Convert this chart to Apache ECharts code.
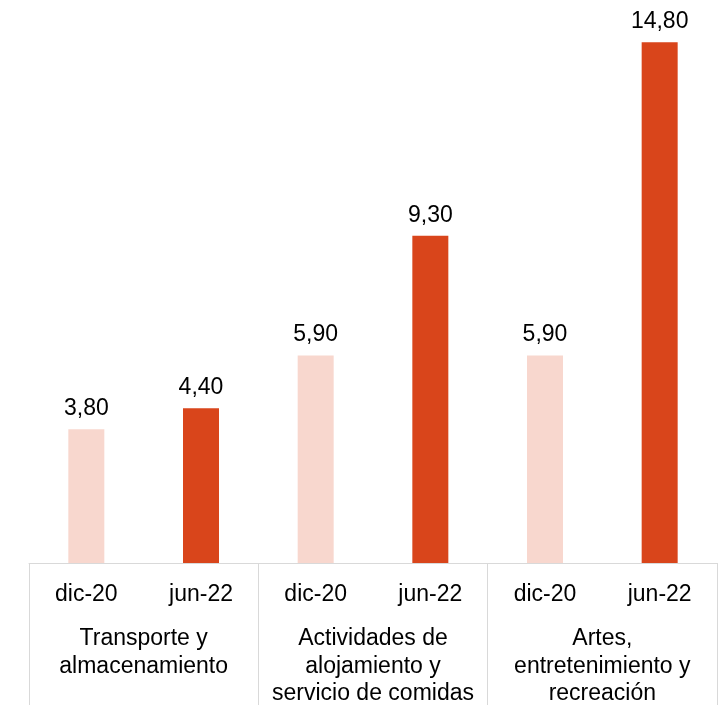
<!DOCTYPE html>
<html>
<head>
<meta charset="utf-8">
<script src="https://cdn.jsdelivr.net/npm/echarts@6/dist/echarts.min.js"></script>
<style>
  html, body { margin: 0; padding: 0; background: #fff; }
  #chart { width: 725px; height: 705px; }
</style>
</head>
<body>
<div id="chart"></div>
<script>
// periodos y sectores
const periods = ['dic-20', 'jun-22', 'dic-20', 'jun-22', 'dic-20', 'jun-22']
const sectors = ['Transporte y\nalmacenamiento', 'Actividades de\nalojamiento y\nservicio de comidas', 'Artes,\nentretenimiento y\nrecreación']
const values = [3.8, 4.4, 5.9, 9.3, 5.9, 14.8]
const periodColors = { 'dic-20': '#F8D7CE', 'jun-22': '#D9451B' }

const chart = echarts.init(document.getElementById('chart'))
const font = 'Liberation Sans, Arial, sans-serif'

const option = {
  animation: false,
  grid: {
    top: 0,
    left: 29,
    right: 8,
    bottom: 142,
    outerBoundsMode: 'none'
  },
  xAxis: [
    {
      type: 'category',
      data: periods,
      axisLine: { show: true, lineStyle: { color: '#d9d9d9', width: 1 } },
      axisTick: { show: false },
      axisLabel: {
        margin: 19,
        fontSize: 23,
        fontFamily: font,
        color: '#000',
        lineHeight: 26
      }
    },
    {
      type: 'category',
      data: sectors,
      position: 'bottom',
      axisLine: { show: false },
      axisTick: {
        show: true,
        interval: 0,
        length: 142,
        lineStyle: { color: '#d9d9d9', width: 1 }
      },
      axisLabel: {
        margin: 62,
        fontSize: 23,
        fontFamily: font,
        color: '#000',
        lineHeight: 27.5,
        interval: 0
      }
    }
  ],
  yAxis: {
    type: 'value',
    min: 0,
    max: 16,
    show: false,
    splitLine: { show: false }
  },
  series: [
    {
      type: 'bar',
      xAxisIndex: 0,
      barWidth: 36,
      data: values.map((v, i) => ({
        value: v,
        itemStyle: { color: periodColors[periods[i]] }
      })),
      label: {
        show: true,
        position: 'top',
        distance: 9,
        fontSize: 23,
        fontFamily: font,
        color: '#000',
        formatter: p => p.value.toFixed(2).replace('.', ',')
      }
    }
  ]
}

chart.setOption(option)
</script>
</body>
</html>
